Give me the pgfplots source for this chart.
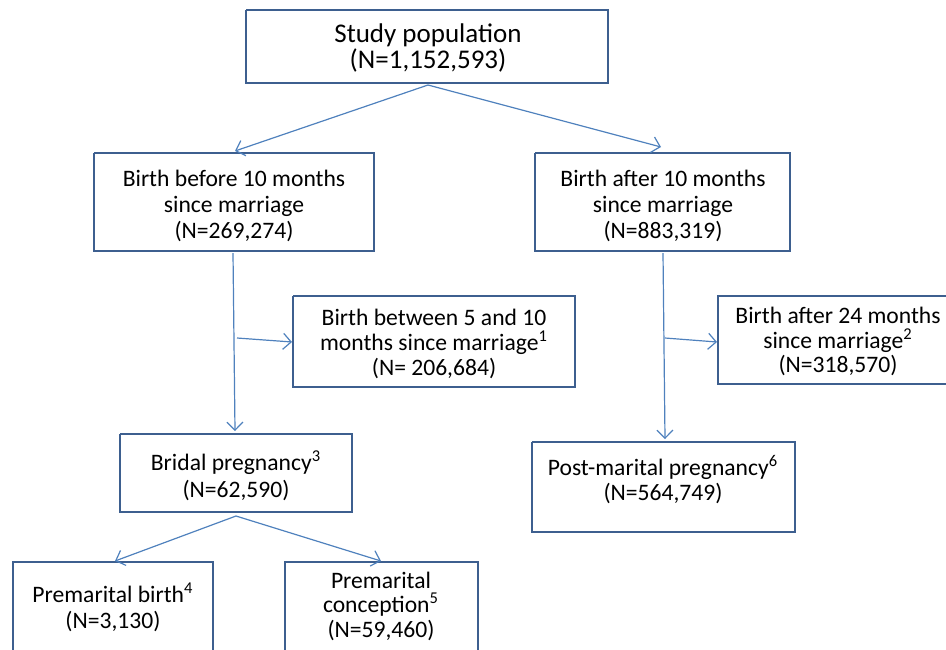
\documentclass[border=0pt]{standalone}
\usepackage{fontspec}
\setmainfont{Carlito}
\usepackage{pgfplots}
\pgfplotsset{compat=1.18}
\usetikzlibrary{arrows.meta}
\definecolor{boxc}{HTML}{3D5F8F}
\definecolor{arrc}{HTML}{4F81BD}
\tikzset{
  boxline/.style={boxc, line width=1.25pt, line join=miter},
  arr/.style={arrc, line width=0.6pt, -{Straight Barb[length=4pt,width=8pt]}},
  tx/.style={anchor=base, inner sep=0pt, font=\fontsize{11.8}{14}\selectfont},
  tb/.style={anchor=base, inner sep=0pt, font=\fontsize{13.5}{16}\selectfont},
}
\begin{document}
\begin{tikzpicture}
\begin{axis}[
  scale only axis, width=473pt, height=324.5pt,
  xmin=0, xmax=946, ymin=0, ymax=649, y dir=reverse,
  hide axis, clip=false,
  every axis plot/.append style={no markers},
]
% boxes
\addplot[boxline] coordinates {(246,10) (608,10) (608,83) (246,83) (246,10)};
\addplot[boxline] coordinates {(94,153) (374,153) (374,251) (94,251) (94,153)};
\addplot[boxline] coordinates {(535,153) (790,153) (790,251) (535,251) (535,153)};
\addplot[boxline] coordinates {(293,296) (575,296) (575,387) (293,387) (293,296)};
\addplot[boxline] coordinates {(950,296) (718,296) (718,384) (950,384)};
\addplot[boxline] coordinates {(120,434) (352,434) (352,512) (120,512) (120,434)};
\addplot[boxline] coordinates {(532,442) (795,442) (795,532) (532,532) (532,442)};
\addplot[boxline] coordinates {(13,655) (13,562) (213,562) (213,655)};
\addplot[boxline] coordinates {(285,655) (285,562) (478,562) (478,655)};
% arrows
\addplot[arr] coordinates {(428,85) (235,151)};
\addplot[arr] coordinates {(428,85) (661,147)};
\addplot[arr] coordinates {(233,253) (235,431)};
\addplot[arr] coordinates {(237,338) (292,342)};
\addplot[arr] coordinates {(663,253) (665,439)};
\addplot[arr] coordinates {(665,338) (717,342)};
\addplot[arr] coordinates {(236,516) (115,561)};
\addplot[arr] coordinates {(236,516) (381,561)};
% texts
\node[tb] at (axis cs:428,42) {Study population};
\node[tb] at (axis cs:428,68) {(N=1,152,593)};
\node[tx] at (axis cs:234,186) {Birth before 10 months};
\node[tx] at (axis cs:234,212) {since marriage};
\node[tx] at (axis cs:234,238) {(N=269,274)};
\node[tx] at (axis cs:663,186) {Birth after 10 months};
\node[tx] at (axis cs:663,212) {since marriage};
\node[tx] at (axis cs:663,238) {(N=883,319)};
\node[tx] at (axis cs:434,325) {Birth between 5 and 10};
\node[tx] at (axis cs:434,350) {months since marriage\textsuperscript{1}};
\node[tx] at (axis cs:434,375) {(N=\ 206,684)};
\node[tx] at (axis cs:838,323) {Birth after 24 months};
\node[tx] at (axis cs:838,348) {since marriage\textsuperscript{2}};
\node[tx] at (axis cs:838,372) {(N=318,570)};
\node[tx] at (axis cs:236,470) {Bridal pregnancy\textsuperscript{3}};
\node[tx] at (axis cs:236,497) {(N=62,590)};
\node[tx] at (axis cs:663,475) {Post-marital pregnancy\textsuperscript{6}};
\node[tx] at (axis cs:663,500) {(N=564,749)};
\node[tx] at (axis cs:113,602) {Premarital birth\textsuperscript{4}};
\node[tx] at (axis cs:113,628) {(N=3,130)};
\node[tx] at (axis cs:381,588) {Premarital};
\node[tx] at (axis cs:381,612) {conception\textsuperscript{5}};
\node[tx] at (axis cs:381,637) {(N=59,460)};
\end{axis}
\pgfresetboundingbox
\useasboundingbox (current axis.south west) rectangle (current axis.north east);
\end{tikzpicture}
\end{document}
